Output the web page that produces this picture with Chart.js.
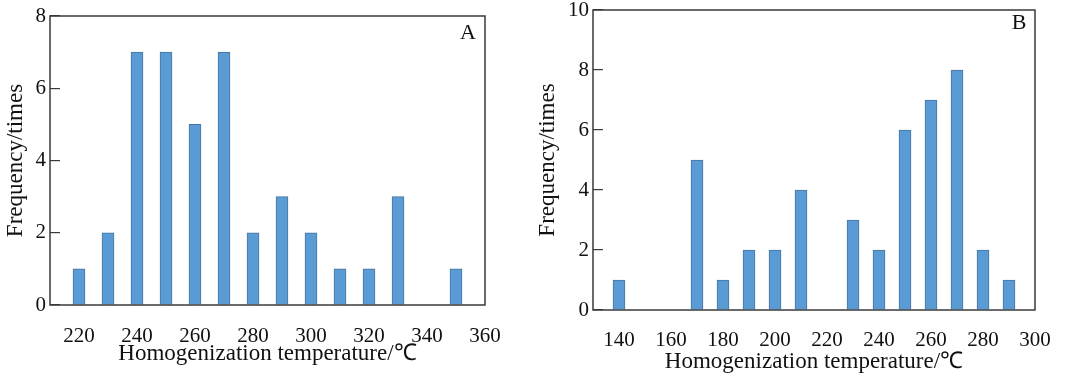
<!DOCTYPE html>
<html>
<head>
<meta charset="utf-8">
<script src="https://cdn.jsdelivr.net/npm/chart.js@4.4.1/dist/chart.umd.min.js"></script>
<style>
  html, body { margin: 0; padding: 0; background: #fff; }
  #wrapA { position: absolute; left: 0; top: 0; width: 510px; height: 376px; }
  #wrapB { position: absolute; left: 530px; top: 0; width: 535px; height: 376px; }
</style>
</head>
<body>
<div id="wrapA"><canvas id="chartA" width="510" height="376"></canvas></div>
<div id="wrapB"><canvas id="chartB" width="535" height="376"></canvas></div>
<script>
// panel A
var tempsA = [220, 230, 240, 250, 260, 270, 280, 290, 300, 310, 320, 330, 350];
var countsA = [1, 2, 7, 7, 5, 7, 2, 3, 2, 1, 1, 3, 1];
var ticksA = [220, 240, 260, 280, 300, 320, 340, 360];

// panel B
var tempsB = [140, 170, 180, 190, 200, 210, 230, 240, 250, 260, 270, 280, 290];
var countsB = [1, 5, 1, 2, 2, 4, 3, 2, 6, 7, 8, 2, 1];
var ticksB = [140, 160, 180, 200, 220, 240, 260, 280, 300];

var xTitle = "Homogenization temperature/\u2103";
var yTitle = "Frequency/times";

Chart.defaults.font.family = "'Liberation Serif', 'Times New Roman', serif";
Chart.defaults.font.size = 21;
Chart.defaults.color = "#111";

var framePlugin = {
  id: "frame",
  afterDraw: function (chart, args, opts) {
    var a = chart.chartArea;
    var ctx = chart.ctx;
    ctx.save();
    ctx.strokeStyle = "#3a3a3a";
    ctx.lineWidth = 1.5;
    ctx.strokeRect(a.left, a.top, a.right - a.left, a.bottom - a.top);
    ctx.font = "22px 'Liberation Serif'";
    ctx.fillStyle = "#111";
    ctx.textAlign = "center";
    ctx.textBaseline = "middle";
    ctx.fillText(opts.letter, a.right - opts.dx, a.top + opts.dy);
    ctx.restore();
  },
};

function makeChart(id, temps, counts, tickVals, xMin, xMax, yMax, s) {
  var points = temps.map(function (t, i) {
    return { x: t, y: counts[i] };
  });
  return new Chart(document.getElementById(id), {
    type: "bar",
    data: {
      datasets: [
        {
          data: points,
          backgroundColor: "#5b9bd5",
          borderColor: "#46759f",
          borderWidth: 1,
          borderSkipped: "start",
          barThickness: 12,
        },
      ],
    },
    plugins: [framePlugin],
    options: {
      responsive: false,
      animation: false,
      layout: { padding: s.padding },
      plugins: {
        legend: { display: false },
        tooltip: { enabled: false },
        frame: { letter: s.letter, dx: s.dx, dy: s.dy },
      },
      scales: {
        x: {
          type: "linear",
          min: xMin,
          max: xMax,
          offset: false,
          grid: { display: false, drawTicks: false, offset: false },
          border: { display: false },
          ticks: { padding: s.xTickPad, maxRotation: 0, autoSkip: false },
          afterBuildTicks: function (scale) {
            scale.ticks = tickVals.map(function (v) {
              return { value: v };
            });
          },
          title: {
            display: true,
            text: xTitle,
            font: { size: 23 },
            padding: { top: 0, bottom: s.xTitlePad },
          },
          afterFit: function (scale) {
            scale.height = s.xHeight;
            scale.paddingLeft = 0;
            scale.paddingRight = 0;
          },
        },
        y: {
          min: 0,
          max: yMax,
          ticks: { stepSize: 2, padding: 14 },
          grid: {
            drawOnChartArea: false,
            drawTicks: true,
            tickLength: -10,
            color: "#3a3a3a",
            lineWidth: 1.2,
          },
          border: { display: false },
          title: {
            display: true,
            text: yTitle,
            font: { size: 23 },
            padding: { top: s.yTitlePad, bottom: 2 },
          },
          afterFit: function (scale) {
            scale.width = s.yWidth;
            scale.paddingTop = 0;
            scale.paddingBottom = 0;
          },
        },
      },
    },
  });
}

makeChart("chartA", tempsA, countsA, ticksA, 210, 360, 8, {
  padding: { left: 0, top: 16, right: 25, bottom: 0 },
  yWidth: 50,
  xHeight: 71,
  xTickPad: 19,
  xTitlePad: 8,
  yTitlePad: 2,
  letter: "A",
  dx: 17,
  dy: 17,
});

makeChart("chartB", tempsB, countsB, ticksB, 130, 300, 10, {
  padding: { left: 0, top: 10, right: 30, bottom: 0 },
  yWidth: 63,
  xHeight: 66,
  xTickPad: 18,
  xTitlePad: 0,
  yTitlePad: 4,
  letter: "B",
  dx: 16,
  dy: 13,
});
</script>
</body>
</html>
